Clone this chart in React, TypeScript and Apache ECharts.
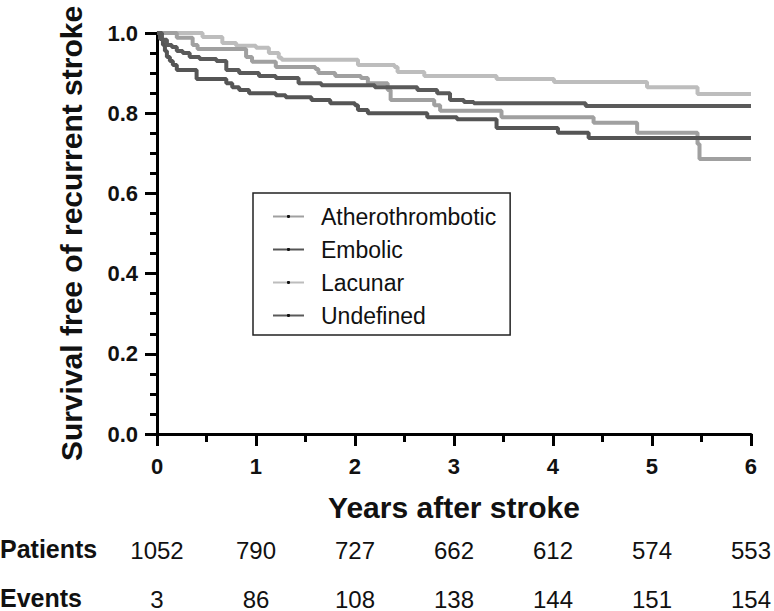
import { useEffect, useRef } from "react";
import * as echarts from "echarts";

const FONT = "'Liberation Sans', Arial, sans-serif";

const yearTicks = [0, 1, 2, 3, 4, 5, 6];
const patientsAtRisk = [1052, 790, 727, 662, 612, 574, 553];
const cumulativeEvents = [3, 86, 108, 138, 144, 151, 154];

const seriesNames = ["Atherothrombotic", "Embolic", "Lacunar", "Undefined"];
const seriesColors = ["#a0a0a0", "#555555", "#bdbdbd", "#5a5a5a"];

const athTimes = [0, 0.2, 0.36, 0.41, 0.9, 0.96, 1.2, 1.6, 1.63, 1.8, 2.06, 2.13, 2.33, 2.36, 2.8, 2.86, 3.48, 4.41, 4.85, 5.46, 5.48, 6.0];
const athSurv = [1.0, 0.988, 0.97, 0.96, 0.94, 0.928, 0.915, 0.91, 0.9, 0.893, 0.888, 0.875, 0.858, 0.833, 0.82, 0.806, 0.79, 0.776, 0.751, 0.723, 0.686, 0.686];

const embTimes = [0, 0.03, 0.06, 0.08, 0.1, 0.13, 0.16, 0.2, 0.4, 0.7, 0.76, 0.83, 0.93, 1.2, 1.3, 1.56, 1.75, 2.0, 2.03, 2.13, 2.73, 3.03, 3.43, 4.05, 4.36, 6.0];
const embSurv = [1.0, 0.985, 0.97, 0.955, 0.94, 0.93, 0.92, 0.908, 0.885, 0.875, 0.865, 0.858, 0.85, 0.845, 0.84, 0.833, 0.825, 0.82, 0.808, 0.8, 0.79, 0.785, 0.763, 0.751, 0.738, 0.738];

const lacTimes = [0, 0.46, 0.66, 0.8, 1.0, 1.13, 1.23, 1.26, 2.03, 2.4, 2.43, 2.7, 3.43, 4.01, 4.95, 5.46, 6.0];
const lacSurv = [1.0, 0.99, 0.975, 0.968, 0.963, 0.95, 0.938, 0.933, 0.92, 0.915, 0.903, 0.893, 0.885, 0.878, 0.865, 0.848, 0.848];

const undTimes = [0, 0.05, 0.1, 0.15, 0.2, 0.26, 0.33, 0.43, 0.6, 0.7, 0.83, 1.03, 1.2, 1.43, 1.66, 2.2, 2.63, 2.83, 2.96, 3.1, 3.2, 4.33, 6.0];
const undSurv = [1.0, 0.983, 0.97, 0.965, 0.955, 0.95, 0.94, 0.935, 0.93, 0.908, 0.9, 0.893, 0.888, 0.875, 0.87, 0.865, 0.858, 0.85, 0.833, 0.828, 0.825, 0.818, 0.818];

const allTimes = [athTimes, embTimes, lacTimes, undTimes];
const allSurv = [athSurv, embSurv, lacSurv, undSurv];

function buildOption(): echarts.EChartsOption {
  const series: any[] = seriesNames.map((name, i) => ({
    name,
    type: "line",
    step: "end",
    data: allTimes[i].map((t, k) => [t, allSurv[i][k]]),
    symbol: "circle",
    symbolSize: 3,
    showSymbol: false,
    lineStyle: { color: seriesColors[i], width: 4 },
    itemStyle: { color: "#111" },
    z: [2, 3, 1, 4][i],
  }));

  const rowAxis = (values: number[], offset: number) => ({
    type: "value",
    min: 0,
    max: 6,
    interval: 1,
    position: "bottom",
    offset,
    axisLine: { show: false },
    axisTick: { show: false },
    splitLine: { show: false },
    axisLabel: {
      margin: 0,
      fontFamily: FONT,
      fontSize: 24,
      color: "#111",
      showMaxLabel: true,
      showMinLabel: true,
      formatter: (v: number) => {
        const idx = yearTicks.indexOf(Math.round(v));
        return idx >= 0 ? String(values[idx]) : "";
      },
    },
  });

  return {
    animation: false,
    backgroundColor: "#fff",
    grid: { left: 157, right: 17, top: 33, bottom: 177, containLabel: false },
    legend: {
      orient: "vertical",
      left: 253,
      top: 193,
      padding: [12, 14, 8, 19],
      itemGap: 10,
      itemWidth: 31,
      itemHeight: 4,
      borderColor: "#222",
      borderWidth: 1.5,
      data: seriesNames,
      textStyle: { fontFamily: FONT, fontSize: 23, color: "#111", padding: [0, 0, 0, 12] },
    },
    xAxis: [
      {
        type: "value",
        min: 0,
        max: 6,
        interval: 1,
        name: "Years after stroke",
        nameLocation: "middle",
        nameGap: 58,
        nameTextStyle: { fontFamily: FONT, fontSize: 30, fontWeight: "bold", color: "#111" },
        axisLine: { show: true, onZero: false, lineStyle: { color: "#000", width: 3 } },
        axisTick: { show: true, inside: false, length: 12, lineStyle: { color: "#000", width: 3 } },
        minorTick: { show: true, splitNumber: 2, length: 8, lineStyle: { color: "#000", width: 3 } },
        splitLine: { show: false },
        axisLabel: { margin: 21, fontFamily: FONT, fontSize: 22, fontWeight: "bold", color: "#111" },
      },
      rowAxis(patientsAtRisk, 104) as any,
      rowAxis(cumulativeEvents, 153) as any,
    ],
    yAxis: {
      type: "value",
      min: 0,
      max: 1,
      interval: 0.2,
      name: "Survival free of recurrent stroke",
      nameLocation: "middle",
      nameGap: 71,
      nameTextStyle: { fontFamily: FONT, fontSize: 30, fontWeight: "bold", color: "#111" },
      axisLine: { show: true, lineStyle: { color: "#000", width: 3 } },
      axisTick: { show: true, inside: false, length: 12, lineStyle: { color: "#000", width: 3 } },
      minorTick: { show: true, splitNumber: 4, length: 7, lineStyle: { color: "#000", width: 3 } },
      splitLine: { show: false },
      axisLabel: {
        margin: 19,
        fontFamily: FONT,
        fontSize: 22,
        fontWeight: "bold",
        color: "#111",
        formatter: (v: number) => v.toFixed(1),
      },
    },
    graphic: [
      {
        type: "text",
        left: 0,
        top: 536,
        style: { text: "Patients", fontFamily: FONT, fontSize: 25, fontWeight: "bold", fill: "#111" },
      },
      {
        type: "text",
        left: 0,
        top: 585,
        style: { text: "Events", fontFamily: FONT, fontSize: 25, fontWeight: "bold", fill: "#111" },
      },
    ],
    series,
  };
}

export default function App() {
  const ref = useRef<HTMLDivElement>(null);
  useEffect(() => {
    if (!ref.current) return;
    const chart = echarts.init(ref.current, null, { renderer: "svg" });
    chart.setOption(buildOption());
    return () => chart.dispose();
  }, []);
  return (
    <div
      ref={ref}
      style={{ position: "fixed", left: 0, top: 0, width: 774, height: 611, background: "#fff" }}
    />
  );
}
